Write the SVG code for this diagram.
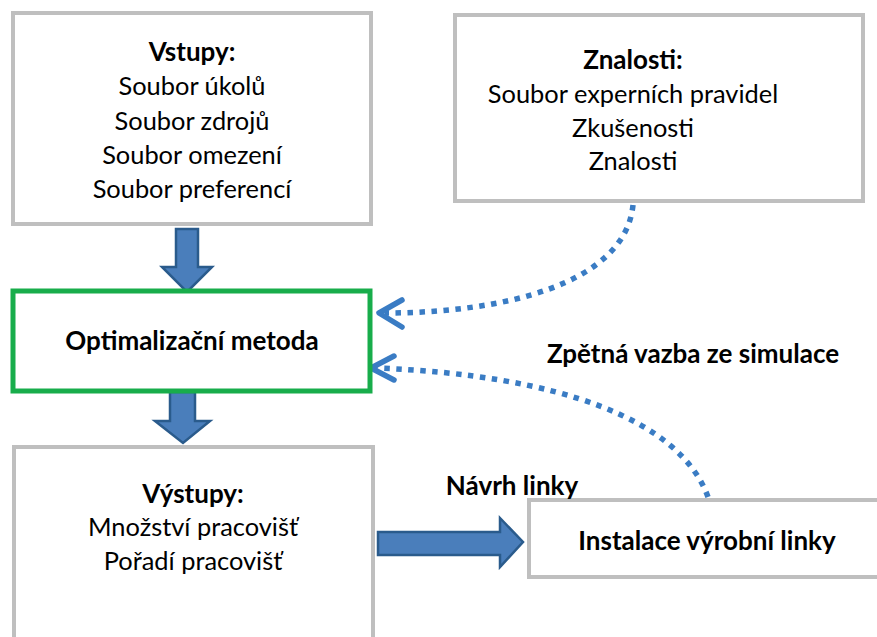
<svg xmlns="http://www.w3.org/2000/svg" width="877" height="637" viewBox="0 0 877 637">
<defs>
<style>
.box{fill:#fff;stroke:#bfbfbf;stroke-width:4}
.green{fill:#fff;stroke:#18ad4b;stroke-width:5}
text{font-family:Lato,"Liberation Sans",sans-serif;font-size:25.4px;fill:#000;text-anchor:middle}
.b{font-weight:bold;font-size:26px}
.block{fill:#4a7ebb;stroke:#2a5b8c;stroke-width:2.5;stroke-linejoin:miter}
.dot{fill:none;stroke:#3a7cc4;stroke-width:5.5;stroke-dasharray:5.5 6.5}
.head{fill:none;stroke:#3a7cc4;stroke-width:5.5;stroke-linecap:round;stroke-linejoin:round}
</style>
</defs>
<rect width="877" height="637" fill="#fff"/>
<g id="connectors">
<polygon class="block" points="176,229 198,229 198,267 212,267 187,292 162,267 176,267"/>
<polygon class="block" points="170,392 195,392 195,421 210,421 183,443 155,421 170,421"/>
<polygon class="block" points="378,532 500,532 500,518 523,542 500,567 500,555 378,555"/>
<path class="dot" d="M633,205 C625,285 500,313 385,313"/>
<polyline class="head" points="402,300 379,313 402,327"/>
<path class="dot" d="M708,497 C680,420 560,375 376,368"/>
<polyline class="head" points="394,356 371,368 394,380"/>
</g>
<g id="vstupy">
<rect class="box" x="13" y="13" width="358" height="211"/>
<text class="b" x="192" y="61">Vstupy:</text>
<text x="192" y="95">Soubor úkolů</text>
<text x="192" y="130">Soubor zdrojů</text>
<text x="192" y="164">Soubor omezení</text>
<text x="192" y="198">Soubor preferencí</text>
</g>
<g id="znalosti">
<rect class="box" x="455" y="15" width="408" height="186"/>
<text class="b" x="633" y="69">Znalosti:</text>
<text x="633" y="103">Soubor experních pravidel</text>
<text x="633" y="137">Zkušenosti</text>
<text x="633" y="170">Znalosti</text>
</g>
<g id="optimalizace">
<rect class="green" x="13" y="291" width="357" height="100"/>
<text class="b" x="192" y="350">Optimalizační metoda</text>
</g>
<g id="vystupy">
<rect class="box" x="14" y="447" width="359" height="200"/>
<text class="b" x="193" y="503">Výstupy:</text>
<text x="193" y="536">Množství pracovišť</text>
<text x="193" y="570">Pořadí pracovišť</text>
</g>
<g id="instalace">
<rect class="box" x="529" y="500" width="360" height="77"/>
<text class="b" x="707" y="550">Instalace výrobní linky</text>
</g>
<g id="labels">
<text class="b" x="512" y="495">Návrh linky</text>
<text class="b" x="693" y="363">Zpětná vazba ze simulace</text>
</g>
</svg>
